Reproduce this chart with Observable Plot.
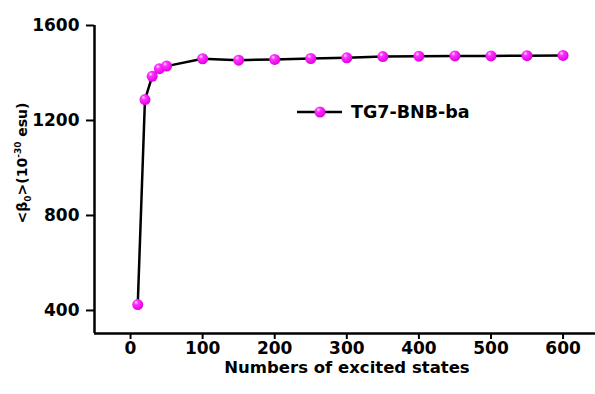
<!DOCTYPE html>
<html><head><meta charset="utf-8">
<script src="https://cdn.jsdelivr.net/npm/d3@7"></script>
<script src="https://cdn.jsdelivr.net/npm/@observablehq/plot@0.6"></script>
<style>
body{margin:0;background:#fff;}
svg{font-family:"DejaVu Sans",sans-serif;}
</style>
</head><body><div id="chart"></div>
<script>
const states = [10, 20, 30, 40, 50, 100, 150, 200, 250, 300, 350, 400, 450, 500, 550, 600];
const beta = [425, 1288, 1386, 1418, 1429, 1460, 1454, 1457, 1461, 1464, 1469, 1471, 1472, 1472, 1473, 1474];
const xTicks = [0, 100, 200, 300, 400, 500, 600];
const yTicks = [400, 800, 1200, 1600];
const seriesName = "TG7-BNB-ba";

const data = states.map((s, i) => ({x: s, y: beta[i]}));

const plot = Plot.plot({
  width: 595, height: 394,
  marginTop: 25, marginBottom: 61, marginLeft: 94, marginRight: 0,
  x: {domain: [-50, 645]},
  y: {domain: [303, 1600]},
  style: {fontFamily: '"DejaVu Sans", sans-serif', background: "#fff"},
  marks: [
    Plot.axisX({ticks: xTicks, tickFormat: "d", tickSize: 6, tickPadding: 2, fontSize: 17, fontWeight: "bold", label: null, strokeWidth: 2, color: "#000"}),
    Plot.axisY({ticks: yTicks, tickFormat: "d", tickSize: 8, tickPadding: 7, fontSize: 17, fontWeight: "bold", label: null, strokeWidth: 2, color: "#000"}),
    Plot.ruleX([-50], {stroke: "#000", strokeWidth: 2.5}),
    Plot.ruleY([303], {stroke: "#000", strokeWidth: 2.5}),
    Plot.line(data, {x: "x", y: "y", stroke: "#000", strokeWidth: 2.5}),
    Plot.dot(data, {x: "x", y: "y", r: 5.5, fill: "url(#ball)", stroke: "none"})
  ]
});

const svg = d3.select(plot);
const defs = svg.insert("defs", ":first-child");
const g = defs.append("radialGradient").attr("id", "ball").attr("cx", "0.4").attr("cy", "0.35").attr("r", "0.65").attr("fx", "0.35").attr("fy", "0.3");
g.append("stop").attr("offset", "0%").attr("stop-color", "#ffe6ff");
g.append("stop").attr("offset", "30%").attr("stop-color", "#ff33ff");
g.append("stop").attr("offset", "100%").attr("stop-color", "#e000e0");

// axis titles
svg.append("text").attr("x", 347).attr("y", 373).attr("text-anchor", "middle")
  .attr("font-size", 16.5).attr("font-weight", "bold").text("Numbers of excited states");
const yl = svg.append("text").attr("transform", "translate(27,163) rotate(-90)").attr("text-anchor", "middle")
  .attr("font-size", 14).attr("font-weight", "bold");
yl.append("tspan").text("<β");
yl.append("tspan").attr("font-size", 9).attr("dy", 4).text("0");
yl.append("tspan").attr("dy", -4).text(">(10");
yl.append("tspan").attr("font-size", 9).attr("dy", -6).text("-30");
yl.append("tspan").attr("dy", 6).text(" esu)");

// legend
const lg = svg.append("g");
lg.append("line").attr("x1", 297).attr("x2", 342).attr("y1", 112).attr("y2", 112).attr("stroke", "#000").attr("stroke-width", 2.5);
lg.append("circle").attr("cx", 320).attr("cy", 112).attr("r", 5.5).attr("fill", "url(#ball)");
lg.append("text").attr("x", 351).attr("y", 118).attr("text-anchor", "start").attr("font-size", 17.5).attr("font-weight", "bold").text(seriesName);

document.getElementById("chart").appendChild(plot);
</script>
</body></html>
